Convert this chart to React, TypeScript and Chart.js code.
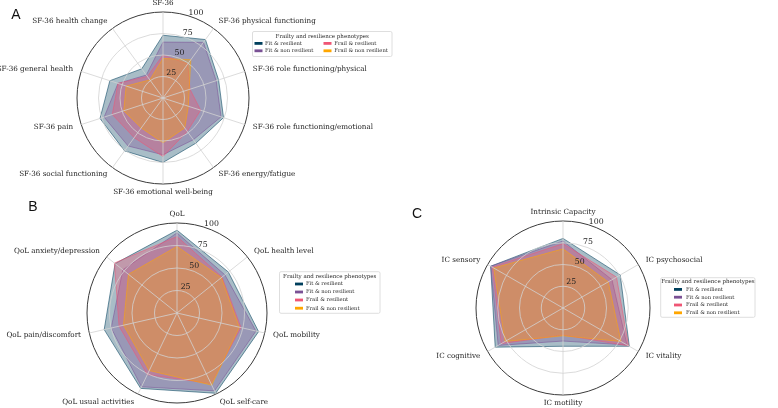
import React, { useEffect, useRef } from 'react';
import { Chart, registerables } from 'chart.js';

Chart.register(...registerables);

const PAGE_W = 778;
const PAGE_H = 408;

// ---------- data ----------
const seriesNames = ['Fit & resilient', 'Fit & non resilient', 'Frail & resilient', 'Frail & non resilient'];
const seriesColors = ['#003f5c', '#7a5195', '#ef5675', '#ffa600'];
const legendTitle = 'Frailty and resilience phenotypes';
const tickValues = [25, 50, 75, 100];

const sfLabels = ['SF-36', 'SF-36 physical functioning', 'SF-36 role functioning/physical', 'SF-36 role functioning/emotional', 'SF-36 energy/fatigue', 'SF-36 emotional well-being', 'SF-36 social functioning', 'SF-36 pain', 'SF-36 general health', 'SF-36 health change'];
const sfFitResilient = [73, 84, 68, 74, 65, 75, 76, 77, 65, 42];
const sfFitNonResilient = [65, 80, 65, 71, 60, 66, 69, 72, 55, 33];
const sfFrailResilient = [50, 49, 33, 46, 48, 68, 57, 62, 55, 31];
const sfFrailNonResilient = [46, 55, 32, 31, 43, 52, 43, 48, 45, 26];

const qolLabels = ['QoL', 'QoL health level', 'QoL mobility', 'QoL self-care', 'QoL usual activities', 'QoL pain/discomfort', 'QoL anxiety/depression'];
const qolFitResilient = [92, 73, 93, 99, 93, 83, 88];
const qolFitNonResilient = [89, 68, 90, 96, 91, 75, 77];
const qolFrailResilient = [85, 64, 73, 87, 76, 66, 89];
const qolFrailNonResilient = [74, 63, 71, 89, 71, 61, 69];

const icLabels = ['Intrinsic Capacity', 'IC psychosocial', 'IC vitality', 'IC motility', 'IC cognitive', 'IC sensory'];
const icFitResilient = [80, 76, 88, 44, 90, 96];
const icFitNonResilient = [77, 65, 85, 38, 86, 96];
const icFrailResilient = [74, 71, 87, 31, 82, 94];
const icFrailNonResilient = [68, 60, 77, 32, 77, 92];

// ---------- layout (positions / styles) ----------
type Panel = {
  letter: string; letterX: number; letterY: number;
  cx: number; cy: number; r: number;
  labels: string[]; series: number[][];
  legend: { x: number; y: number; w: number; h: number; titleY: number; rowYs: number[]; colPatchX: number[]; colTextX: number[] };
};

const panels: Panel[] = [
  {
    letter: 'A', letterX: 16, letterY: 15,
    cx: 163.3, cy: 98, r: 86,
    labels: sfLabels,
    series: [sfFitResilient, sfFitNonResilient, sfFrailResilient, sfFrailNonResilient],
    legend: { x: 252.5, y: 31.5, w: 139.5, h: 25, titleY: 36.2, rowYs: [43.4, 50.8], colPatchX: [254.5, 323.5], colTextX: [265, 334.3] },
  },
  {
    letter: 'B', letterX: 33, letterY: 207.5,
    cx: 177.5, cy: 313.5, r: 90,
    labels: qolLabels,
    series: [qolFitResilient, qolFitNonResilient, qolFrailResilient, qolFrailNonResilient],
    legend: { x: 279.5, y: 271.7, w: 100.5, h: 41.6, titleY: 276.3, rowYs: [284, 292, 300, 308.2], colPatchX: [295], colTextX: [306] },
  },
  {
    letter: 'C', letterX: 417, letterY: 214,
    cx: 563, cy: 308.5, r: 87,
    labels: icLabels,
    series: [icFitResilient, icFitNonResilient, icFrailResilient, icFrailNonResilient],
    legend: { x: 660.7, y: 277.7, w: 94.3, h: 39.6, titleY: 281.8, rowYs: [289.4, 297.2, 305, 312.8], colPatchX: [674], colTextX: [686] },
  },
];

function rgba(hex: string, a: number) {
  const n = parseInt(hex.slice(1), 16);
  return `rgba(${(n >> 16) & 255},${(n >> 8) & 255},${n & 255},${a})`;
}

const decoPlugin = {
  id: 'deco',
  afterDraw(chart: any, _args: any, opts: any) {
    const p: Panel = opts.panel;
    const ctx = chart.ctx as CanvasRenderingContext2D;
    const s = chart.scales.r;
    const cx = s.xCenter, cy = s.yCenter, R = s.drawingArea;
    ctx.save();
    // axis (point) labels
    ctx.font = '7.2px "DejaVu Serif"';
    ctx.fillStyle = '#222';
    ctx.textBaseline = 'middle';
    (chart.data.labels as string[]).forEach((lab, i) => {
      const pos = s.getPointPosition(i, R + 8.5);
      const a = pos.angle + Math.PI / 2;
      const sn = Math.sin(a);
      ctx.textAlign = Math.abs(sn) < 0.05 ? 'center' : sn > 0 ? 'left' : 'right';
      ctx.fillText(lab, pos.x, pos.y);
    });
    // radial tick labels at 22.5 deg
    ctx.font = '7.8px "DejaVu Serif"';
    ctx.textAlign = 'center';
    ctx.fillStyle = '#222';
    const th = (22.5 * Math.PI) / 180;
    tickValues.forEach((v) => {
      const d = s.getDistanceFromCenterForValue(v);
      ctx.fillText(String(v), cx + d * Math.sin(th), cy - d * Math.cos(th) - 5.5);
    });
    // panel letter
    ctx.font = '14px "Liberation Sans"';
    ctx.fillStyle = '#111';
    ctx.textAlign = 'center';
    ctx.fillText(p.letter, p.letterX, p.letterY);
    // legend
    const L = p.legend;
    ctx.beginPath();
    if ((ctx as any).roundRect) (ctx as any).roundRect(L.x, L.y, L.w, L.h, 1.5);
    else ctx.rect(L.x, L.y, L.w, L.h);
    ctx.fillStyle = 'rgba(255,255,255,0.85)';
    ctx.fill();
    ctx.strokeStyle = '#d6d6d6';
    ctx.lineWidth = 0.8;
    ctx.stroke();
    ctx.fillStyle = '#262626';
    ctx.font = '5.5px "DejaVu Serif"';
    ctx.textAlign = 'center';
    ctx.fillText(legendTitle, L.x + L.w / 2, L.titleY);
    ctx.font = '5.2px "DejaVu Serif"';
    ctx.textAlign = 'left';
    const nRows = L.rowYs.length;
    chart.data.datasets.forEach((ds: any, i: number) => {
      const col = Math.floor(i / nRows);
      const row = i % nRows;
      const y = L.rowYs[row];
      ctx.fillStyle = seriesColors[i];
      ctx.fillRect(L.colPatchX[col], y - 1.4, 8, 2.8);
      ctx.fillStyle = '#262626';
      ctx.fillText(ds.label, L.colTextX[col], y);
    });
    ctx.restore();
  },
};

function RadarPanel({ panel }: { panel: Panel }) {
  const ref = useRef<HTMLCanvasElement | null>(null);
  useEffect(() => {
    if (!ref.current) return;
    const { cx, cy, r } = panel;
    const chart = new Chart(ref.current, {
      type: 'radar',
      data: {
        labels: panel.labels,
        datasets: panel.series.map((vals, i) => ({
          label: seriesNames[i],
          data: vals,
          backgroundColor: rgba(seriesColors[i], 0.34),
          borderColor: rgba(seriesColors[i], 0.55),
          borderWidth: 1,
          pointRadius: 0,
          pointHoverRadius: 0,
          fill: true,
          tension: 0,
          order: panel.series.length - i,
        })),
      },
      options: {
        responsive: false,
        animation: false,
        devicePixelRatio: 1,
        events: [],
        layout: {
          padding: { left: cx - r, top: cy - r, right: PAGE_W - cx - r, bottom: PAGE_H - cy - r },
        },
        plugins: {
          legend: { display: false },
          tooltip: { enabled: false },
          deco: { panel },
        } as any,
        scales: {
          r: {
            min: 0,
            max: 100,
            ticks: { display: false, stepSize: 25 },
            pointLabels: { display: false },
            grid: {
              circular: true,
              z: 1,
              color: (c: any) => (c.tick && c.tick.value === 100 ? '#3a3a3a' : '#d2d2d2'),
              lineWidth: (c: any) => (c.tick && c.tick.value === 100 ? 1 : 0.8),
            },
            angleLines: { color: '#d2d2d2', lineWidth: 0.8 },
          },
        } as any,
      },
      plugins: [decoPlugin as any],
    });
    return () => chart.destroy();
  }, [panel]);
  return (
    <canvas
      ref={ref}
      width={PAGE_W}
      height={PAGE_H}
      style={{ position: 'absolute', left: 0, top: 0, width: PAGE_W, height: PAGE_H }}
    />
  );
}

export default function App() {
  useEffect(() => {
    document.body.style.margin = '0';
    document.body.style.background = '#ffffff';
  }, []);
  return (
    <div style={{ position: 'relative', width: PAGE_W, height: PAGE_H, background: '#fff', overflow: 'hidden' }}>
      {panels.map((p) => (
        <RadarPanel key={p.letter} panel={p} />
      ))}
    </div>
  );
}
